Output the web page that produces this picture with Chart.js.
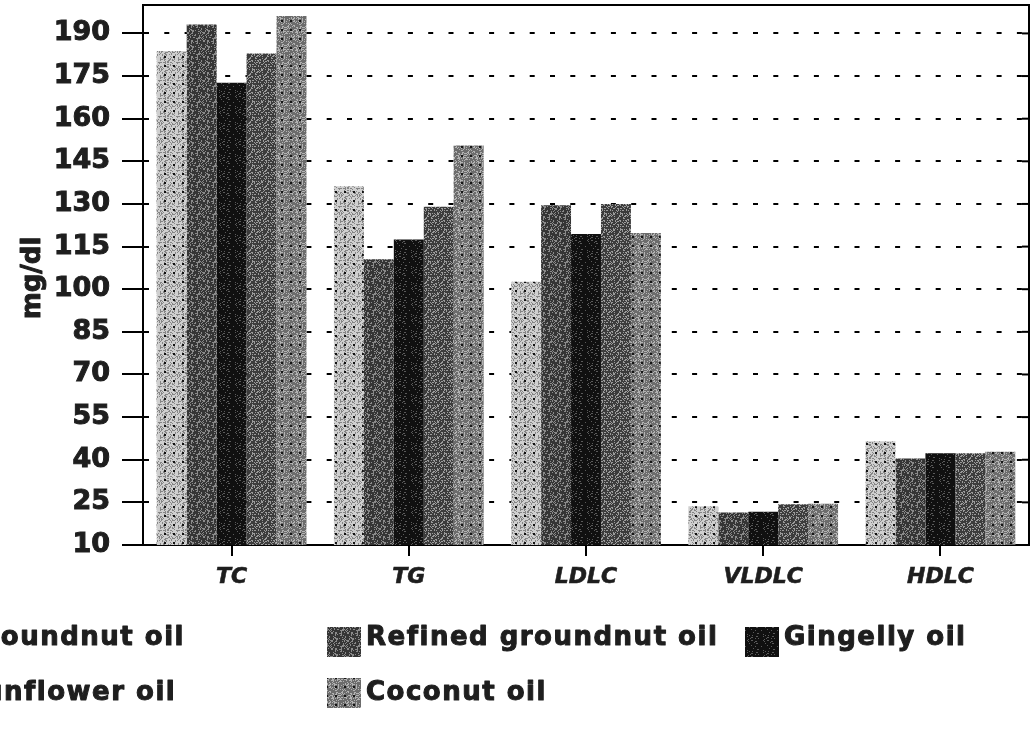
<!DOCTYPE html>
<html>
<head>
<meta charset="utf-8">
<script src="https://cdn.jsdelivr.net/npm/chart.js@4.4.1/dist/chart.umd.min.js"></script>
<style>
  html, body { margin: 0; padding: 0; background: #ffffff; }
  #wrap { width: 1034px; height: 735px; position: relative; overflow: hidden; }
  canvas { display: block; }
</style>
</head>
<body>
<div id="wrap"><canvas id="chart" width="1034" height="735"></canvas></div>
<script>
// Serum lipid profile by dietary oil (mg/dl)
const categories = ['TC', 'TG', 'LDLC', 'VLDLC', 'HDLC'];
const seriesNames = ['Groundnut oil', 'Refined groundnut oil', 'Gingelly oil', 'Sunflower oil', 'Coconut oil'];
const groundnut = [183.8, 136.2, 102.6, 23.6, 46.5];
const refinedGroundnut = [193.1, 110.5, 129.5, 21.4, 40.4];
const gingelly = [172.6, 117.5, 119.4, 21.7, 42.3];
const sunflower = [182.9, 129.0, 130.0, 24.3, 42.3];
const coconut = [196.1, 150.6, 119.8, 24.5, 42.8];
const yTicks = [10, 25, 40, 55, 70, 85, 100, 115, 130, 145, 160, 175, 190];
const yTitle = 'mg/dl';

const inkColor = '#1e1e1e';

// deterministic speckle used for the halftone-like bar textures
function hash(x, y, s) {
  let h = (x * 374761393 + y * 668265263 + s * 1442695041) | 0;
  h = Math.imul(h ^ (h >>> 13), 1274126177);
  h = h ^ (h >>> 16);
  return (h >>> 0) / 4294967295;
}

function makePattern(o) {
  const c = document.createElement('canvas');
  c.width = o.size; c.height = o.size;
  const g = c.getContext('2d');
  g.fillStyle = o.base;
  g.fillRect(0, 0, o.size, o.size);
  g.fillStyle = o.speck;
  for (let y = 0; y < o.size; y++) {
    for (let x = 0; x < o.size; x++) {
      if (hash(x, y, o.seed) < o.rate) g.fillRect(x, y, 1, 1);
    }
  }
  if (o.dot) {
    g.fillStyle = o.dot;
    const st = o.size / 2;
    g.fillRect(2, 2, 2, 2);
    g.fillRect(2 + st, 2 + st, 2, 2);
    g.fillRect(2 + st, 2, 2, 2);
    g.fillRect(2, 2 + st, 2, 2);
  }
  return g.createPattern(c, 'repeat');
}

const ctx = document.getElementById('chart').getContext('2d');

const fills = [
  makePattern({ size: 18, base: '#cfcfcf', speck: '#858585', rate: 0.34, seed: 1, dot: '#111111' }),
  makePattern({ size: 16, base: '#353535', speck: '#8a8a8a', rate: 0.28, seed: 2 }),
  makePattern({ size: 16, base: '#101010', speck: '#5a5a5a', rate: 0.12, seed: 3 }),
  makePattern({ size: 16, base: '#3c3c3c', speck: '#9c9c9c', rate: 0.30, seed: 4 }),
  makePattern({ size: 18, base: '#6c6c6c', speck: '#b2b2b2', rate: 0.32, seed: 5, dot: '#151515' })
];

const seriesValues = [groundnut, refinedGroundnut, gingelly, sunflower, coconut];

function heavyText(c, text, x, y) {
  c.strokeText(text, x, y);
  c.fillText(text, x, y);
}

const framePlugin = {
  id: 'frame',
  afterDraw(chart) {
    const c = chart.ctx;
    const a = chart.chartArea;
    const ys = chart.scales.y;
    c.save();
    // top and right border of the plot box
    c.strokeStyle = '#000';
    c.lineWidth = 2;
    c.beginPath();
    c.moveTo(a.left - 1, a.top);
    c.lineTo(a.right, a.top);
    c.lineTo(a.right, a.bottom + 1);
    c.stroke();
    // inward ticks on the right border
    yTicks.forEach(v => {
      const py = ys.getPixelForValue(v);
      c.beginPath();
      c.moveTo(a.right - 7, py);
      c.lineTo(a.right, py);
      c.stroke();
    });

    // rotated y-axis title
    c.fillStyle = inkColor;
    c.strokeStyle = inkColor;
    c.lineWidth = 1;
    c.lineJoin = 'round';
    c.font = 'bold 26px "DejaVu Sans"';
    c.textAlign = 'center';
    c.textBaseline = 'middle';
    c.translate(33, 278);
    c.rotate(-Math.PI / 2);
    heavyText(c, yTitle, 0, 0);
    c.restore();

    // legend: three columns, row-major
    c.save();
    c.font = 'bold 26px "DejaVu Sans"';
    try { c.letterSpacing = '1.5px'; } catch (e) {}
    c.textAlign = 'left';
    c.textBaseline = 'alphabetic';
    c.strokeStyle = inkColor;
    c.lineWidth = 1;
    c.lineJoin = 'round';
    const firstW = c.measureText(seriesNames[0]).width;
    const colX = [185 - firstW, 366, 784];
    const rowBase = [645, 700];
    const rowBox = [627, 678];
    chart.data.datasets.forEach((ds, i) => {
      const col = i % 3, row = Math.floor(i / 3);
      const tx = colX[col];
      c.fillStyle = ds.backgroundColor;
      c.fillRect(tx - 39, rowBox[row], 34, 30);
      c.fillStyle = inkColor;
      heavyText(c, ds.label, tx, rowBase[row]);
    });
    c.restore();
  }
};

new Chart(ctx, {
  type: 'bar',
  data: {
    labels: categories,
    datasets: seriesNames.map((name, i) => ({
      label: name,
      data: seriesValues[i],
      backgroundColor: fills[i],
      borderWidth: 0,
      barPercentage: 1.0,
      categoryPercentage: 0.845
    }))
  },
  options: {
    responsive: false,
    animation: false,
    devicePixelRatio: 1,
    layout: { padding: { left: 0, top: 5, right: 5, bottom: 0 } },
    plugins: {
      legend: { display: false },
      tooltip: { enabled: false }
    },
    scales: {
      x: {
        afterFit(scale) { scale.height = 190; scale.paddingLeft = 0; scale.paddingRight = 0; },
        grid: {
          display: true,
          drawOnChartArea: false,
          offset: false,
          color: '#000',
          lineWidth: 2,
          tickLength: 11
        },
        border: { display: true, color: '#000', width: 2 },
        ticks: {
          color: inkColor,
          padding: 8,
          textStrokeColor: inkColor,
          textStrokeWidth: 0.6,
          font: { family: 'DejaVu Sans', style: 'italic', weight: 'bold', size: 22 }
        }
      },
      y: {
        min: 10,
        max: 200,
        afterFit(scale) { scale.width = 143; scale.paddingTop = 0; scale.paddingBottom = 0; },
        afterBuildTicks(scale) { scale.ticks = yTicks.map(v => ({ value: v })); },
        grid: {
          color: '#000',
          lineWidth: 2,
          tickLength: 21,
          tickColor: '#000',
          tickWidth: 2
        },
        border: { display: true, color: '#000', width: 2, dash: [5, 15.3] },
        ticks: {
          color: inkColor,
          padding: 12,
          textStrokeColor: inkColor,
          textStrokeWidth: 1,
          font: { family: 'DejaVu Sans', weight: 'bold', size: 27 },
          callback: (v) => String(v)
        }
      }
    }
  },
  plugins: [framePlugin]
});
</script>
</body>
</html>
